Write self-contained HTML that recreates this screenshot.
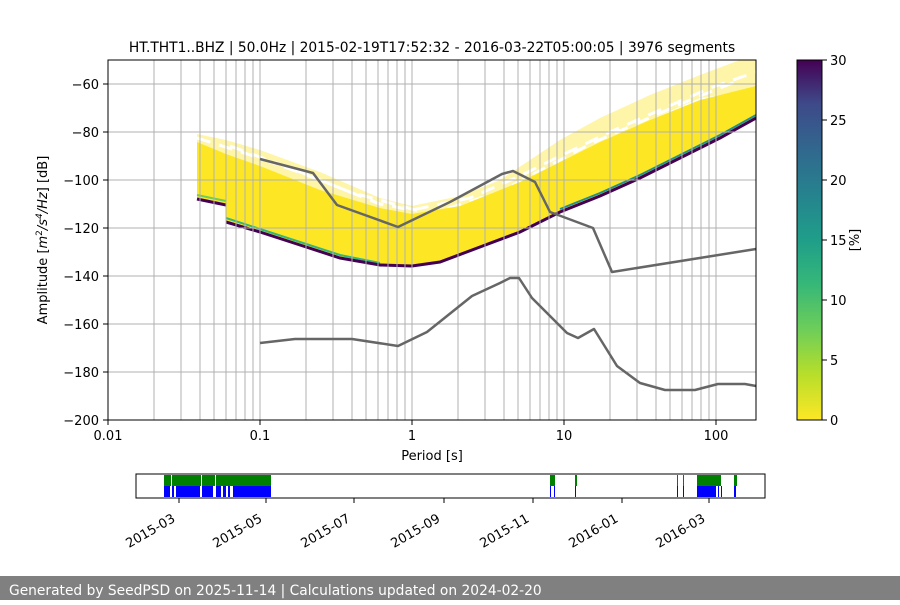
<!DOCTYPE html>
<html><head><meta charset="utf-8"><style>
body{margin:0;width:900px;height:600px;background:#fff;overflow:hidden;font-family:"Liberation Sans","DejaVu Sans",sans-serif}
</style></head><body>
<svg width="900" height="600" xmlns="http://www.w3.org/2000/svg" font-family="DejaVu Sans, Liberation Sans, sans-serif" font-size="13">
<defs>
<linearGradient id="vir" x1="0" y1="1" x2="0" y2="0">
<stop offset="0" stop-color="#fde725"/><stop offset="0.13" stop-color="#b5de2b"/><stop offset="0.25" stop-color="#6ece58"/><stop offset="0.38" stop-color="#35b779"/><stop offset="0.5" stop-color="#1f9e89"/><stop offset="0.63" stop-color="#26828e"/><stop offset="0.75" stop-color="#31688e"/><stop offset="0.88" stop-color="#3e4989"/><stop offset="1" stop-color="#440154"/>
</linearGradient>
<clipPath id="ax"><rect x="108" y="60" width="648" height="360"/></clipPath>
</defs>
<text x="432" y="52" text-anchor="middle" font-size="13.8">HT.THT1..BHZ | 50.0Hz | 2015-02-19T17:52:32 - 2016-03-22T05:00:05 | 3976 segments</text>
<g clip-path="url(#ax)">
<polygon points="197,134 226,140 260,150 320,172 380,198 412,206 460,196 500,180 530,160 560,140 600,118 650,95 700,75 740,60 756,60 756,90 700,98 650,120 600,142 560,162 520,182 460,206 412,216 380,212 320,192 260,168 226,160 197,144" fill="#fde725" opacity="0.4"/>
<g stroke="#fff" stroke-width="3" stroke-dasharray="14 9" fill="none">
<polyline points="197,138 260,158 320,180 380,204 412,210 470,198 520,176 560,156 610,132 660,110 710,88 756,72"/>
<polyline points="230,146 290,168 350,192 430,214 500,192 545,168 590,144 640,122 690,100 740,80"/>
</g>
<polygon points="197,142 226,154 260,166 320,190 380,208 412,214 460,206 520,182 560,162 600,142 650,120 700,100 740,90 756,86 756,118 720,138 680,158 640,178 600,196 560,212 520,232 480,247 440,262 412,267 380,266 340,258 300,245 260,232 226,222 226,205 197,200" fill="#fde725"/>
<polyline points="197,195 226,201" fill="none" stroke="#6ece58" stroke-width="2"/>
<polyline points="226,218 260,229 300,242 340,255 380,263" fill="none" stroke="#35b779" stroke-width="2"/>
<polyline points="197,199 226,205" fill="none" stroke="#440154" stroke-width="3"/>
<polyline points="226,222 260,232 300,245 340,258 380,265 412,266 440,262 480,247 520,232 560,212 600,196 640,178 680,158 720,138 756,118" fill="none" stroke="#440154" stroke-width="3"/>
<polyline points="560,209 600,193 640,175 680,155 720,135 756,115" fill="none" stroke="#21918c" stroke-width="2"/>
</g>
<g stroke="#b0b0b0" stroke-width="1">
<line x1="154" y1="60" x2="154" y2="420"/><line x1="181" y1="60" x2="181" y2="420"/><line x1="200" y1="60" x2="200" y2="420"/><line x1="214" y1="60" x2="214" y2="420"/><line x1="226" y1="60" x2="226" y2="420"/><line x1="236" y1="60" x2="236" y2="420"/><line x1="245" y1="60" x2="245" y2="420"/><line x1="253" y1="60" x2="253" y2="420"/><line x1="260" y1="60" x2="260" y2="420"/>
<line x1="306" y1="60" x2="306" y2="420"/><line x1="333" y1="60" x2="333" y2="420"/><line x1="352" y1="60" x2="352" y2="420"/><line x1="366" y1="60" x2="366" y2="420"/><line x1="378" y1="60" x2="378" y2="420"/><line x1="388" y1="60" x2="388" y2="420"/><line x1="397" y1="60" x2="397" y2="420"/><line x1="405" y1="60" x2="405" y2="420"/><line x1="412" y1="60" x2="412" y2="420"/>
<line x1="458" y1="60" x2="458" y2="420"/><line x1="485" y1="60" x2="485" y2="420"/><line x1="504" y1="60" x2="504" y2="420"/><line x1="518" y1="60" x2="518" y2="420"/><line x1="530" y1="60" x2="530" y2="420"/><line x1="540" y1="60" x2="540" y2="420"/><line x1="549" y1="60" x2="549" y2="420"/><line x1="557" y1="60" x2="557" y2="420"/><line x1="564" y1="60" x2="564" y2="420"/>
<line x1="610" y1="60" x2="610" y2="420"/><line x1="637" y1="60" x2="637" y2="420"/><line x1="656" y1="60" x2="656" y2="420"/><line x1="670" y1="60" x2="670" y2="420"/><line x1="682" y1="60" x2="682" y2="420"/><line x1="692" y1="60" x2="692" y2="420"/><line x1="701" y1="60" x2="701" y2="420"/><line x1="709" y1="60" x2="709" y2="420"/><line x1="716" y1="60" x2="716" y2="420"/>
<line x1="108" y1="84" x2="756" y2="84"/><line x1="108" y1="132" x2="756" y2="132"/><line x1="108" y1="180" x2="756" y2="180"/><line x1="108" y1="228" x2="756" y2="228"/><line x1="108" y1="276" x2="756" y2="276"/><line x1="108" y1="324" x2="756" y2="324"/><line x1="108" y1="372" x2="756" y2="372"/>
</g>
<g fill="none" stroke="#666" stroke-width="2.5" stroke-linejoin="round">
<polyline points="260,159 313,173 337,205 398,227 450,202 502,174 513,171 535,182 550,212 593,228 612,272 756,249"/>
<polyline points="260,343 295,339 352,339 398,346 427,332 472,296 500,283 510,278 519,278 532,298 567,333 578,338 594,329 617,366 640,383 665,390 695,390 718,384 745,384 756,386"/>
</g>
<rect x="108" y="60" width="648" height="360" fill="none" stroke="#000" stroke-width="1"/>
<g stroke="#000">
<line x1="108" y1="420" x2="108" y2="425"/><line x1="260" y1="420" x2="260" y2="425"/><line x1="412" y1="420" x2="412" y2="425"/><line x1="564" y1="420" x2="564" y2="425"/><line x1="716" y1="420" x2="716" y2="425"/>
<line x1="103" y1="84" x2="108" y2="84"/><line x1="103" y1="132" x2="108" y2="132"/><line x1="103" y1="180" x2="108" y2="180"/><line x1="103" y1="228" x2="108" y2="228"/><line x1="103" y1="276" x2="108" y2="276"/><line x1="103" y1="324" x2="108" y2="324"/><line x1="103" y1="372" x2="108" y2="372"/><line x1="103" y1="420" x2="108" y2="420"/>
</g>
<g text-anchor="middle" font-size="13">
<text x="108" y="440">0.01</text><text x="260" y="440">0.1</text><text x="412" y="440">1</text><text x="564" y="440">10</text><text x="716" y="440">100</text>
<text x="432" y="460">Period [s]</text>
</g>
<g text-anchor="end" font-size="13">
<text x="99" y="89">−60</text><text x="99" y="137">−80</text><text x="99" y="185">−100</text><text x="99" y="233">−120</text><text x="99" y="281">−140</text><text x="99" y="329">−160</text><text x="99" y="377">−180</text><text x="99" y="425">−200</text>
</g>
<text transform="translate(47,240) rotate(-90)" text-anchor="middle" font-size="13">Amplitude [<tspan font-style="italic">m</tspan><tspan font-size="9" dy="-5">2</tspan><tspan dy="5" font-style="italic">/s</tspan><tspan font-size="9" dy="-5" font-style="italic">4</tspan><tspan dy="5" font-style="italic">/Hz</tspan>] [dB]</text>
<rect x="797" y="60" width="25" height="360" fill="url(#vir)" stroke="#000" stroke-width="1"/>
<g stroke="#000"><line x1="822" y1="60" x2="827" y2="60"/><line x1="822" y1="120" x2="827" y2="120"/><line x1="822" y1="180" x2="827" y2="180"/><line x1="822" y1="240" x2="827" y2="240"/><line x1="822" y1="300" x2="827" y2="300"/><line x1="822" y1="360" x2="827" y2="360"/><line x1="822" y1="420" x2="827" y2="420"/></g>
<g font-size="13"><text x="830" y="65">30</text><text x="830" y="125">25</text><text x="830" y="185">20</text><text x="830" y="245">15</text><text x="830" y="305">10</text><text x="830" y="365">5</text><text x="830" y="425">0</text></g>
<text transform="translate(859,240) rotate(-90)" text-anchor="middle" font-size="13">[%]</text>
<g fill="#008000">
<rect x="164" y="475" width="107" height="11"/><rect x="550" y="475" width="5" height="11"/><rect x="575" y="475" width="2" height="11"/><rect x="677" y="475" width="1" height="11"/><rect x="683" y="475" width="1" height="11"/><rect x="697" y="475" width="24" height="11"/><rect x="734" y="475" width="3" height="11"/>
</g>
<g fill="#fff"><rect x="171" y="475" width="1" height="11"/><rect x="201" y="475" width="1" height="11"/><rect x="215" y="475" width="1" height="11"/></g>
<g fill="#0000ff">
<rect x="164" y="486" width="6" height="11"/><rect x="172" y="486" width="2" height="11"/><rect x="176" y="486" width="24" height="11"/><rect x="202" y="486" width="11" height="11"/><rect x="216" y="486" width="5" height="11"/><rect x="223" y="486" width="3" height="11"/><rect x="228" y="486" width="2" height="11"/><rect x="233" y="486" width="38" height="11"/>
<rect x="550" y="486" width="1" height="11"/><rect x="554" y="486" width="1" height="11"/><rect x="575" y="486" width="1" height="11"/><rect x="677" y="486" width="1" height="11"/><rect x="683" y="486" width="1" height="11"/><rect x="697" y="486" width="19" height="11"/><rect x="718" y="486" width="1" height="11"/><rect x="721" y="486" width="1" height="11"/><rect x="734" y="486" width="2" height="11"/>
</g>
<rect x="136" y="474" width="629" height="24" fill="none" stroke="#000" stroke-width="1"/>
<g stroke="#000"><line x1="179" y1="498" x2="179" y2="503"/><line x1="266" y1="498" x2="266" y2="503"/><line x1="354" y1="498" x2="354" y2="503"/><line x1="444" y1="498" x2="444" y2="503"/><line x1="533" y1="498" x2="533" y2="503"/><line x1="622" y1="498" x2="622" y2="503"/><line x1="709" y1="498" x2="709" y2="503"/></g>
<g font-size="13" text-anchor="end">
<text transform="translate(176,521) rotate(-30)">2015-03</text>
<text transform="translate(263,521) rotate(-30)">2015-05</text>
<text transform="translate(351,521) rotate(-30)">2015-07</text>
<text transform="translate(441,521) rotate(-30)">2015-09</text>
<text transform="translate(530,521) rotate(-30)">2015-11</text>
<text transform="translate(619,521) rotate(-30)">2016-01</text>
<text transform="translate(706,521) rotate(-30)">2016-03</text>
</g>
<rect x="0" y="576" width="900" height="24" fill="#808080"/>
<text x="9" y="595" fill="#fff" font-size="13.8">Generated by SeedPSD on 2025-11-14 | Calculations updated on 2024-02-20</text>
</svg>
</body></html>
